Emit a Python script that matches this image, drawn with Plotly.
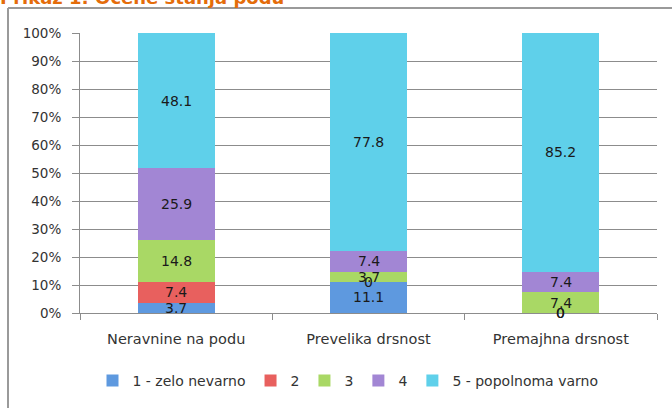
import plotly.graph_objects as go

categories = ["Neravnine na podu", "Prevelika drsnost", "Premajhna drsnost"]
series_names = ["1 - zelo nevarno", "2", "3", "4", "5 - popolnoma varno"]
s1 = [3.7, 11.1, 0]
s2 = [7.4, 0, 0]
s3 = [14.8, 3.7, 7.4]
s4 = [25.9, 7.4, 7.4]
s5 = [48.1, 77.8, 85.2]
series_values = [s1, s2, s3, s4, s5]
y_ticks = [0, 10, 20, 30, 40, 50, 60, 70, 80, 90, 100]
y_tick_labels = [f"{v}%" for v in y_ticks]
title_text = "Prikaz 1: Ocene stanja podu"

colors = ["#5E99DF", "#E8605E", "#A9D865", "#A286D4", "#5FD0EA"]

W, H = 672, 408
L, R, T, B = 80, 15, 33, 94
pw, ph = W - L - R, H - T - B

def px_x(p):
    return (p - L) / pw

def px_y(p):
    return (H - B - p) / ph

fig = go.Figure()
for name, vals, col in zip(series_names, series_values, colors):
    fig.add_trace(go.Bar(
        x=categories, y=vals, name=name,
        marker=dict(color=col, line=dict(width=0)),
        textposition="none", hoverinfo="x+y+name",
    ))

annotations = []
cum = [0.0] * len(categories)
for vals in series_values:
    for i, v in enumerate(vals):
        mid = cum[i] + v / 2
        label = "0" if v == 0 else f"{v:g}"
        annotations.append(dict(
            x=categories[i], y=mid, xref="x", yref="y", text=label,
            showarrow=False, font=dict(family="DejaVu Sans", size=14, color="#1a1a1a"),
        ))
        cum[i] += v

annotations.append(dict(
    x=px_x(-2), y=px_y(-3), xref="paper", yref="paper", xanchor="left", yanchor="middle",
    text=f"<b>{title_text}</b>", showarrow=False,
    font=dict(family="DejaVu Sans", size=18, color="#E46C0A"),
))

shapes = [
    dict(type="line", xref="paper", yref="paper", x0=px_x(8), x1=px_x(690),
         y0=px_y(8), y1=px_y(8), line=dict(color="#9a9a9a", width=2)),
    dict(type="line", xref="paper", yref="paper", x0=px_x(8), x1=px_x(8),
         y0=px_y(8), y1=px_y(420), line=dict(color="#9a9a9a", width=2)),
]

fig.update_layout(
    width=W, height=H,
    margin=dict(l=L, r=R, t=T, b=B, pad=0),
    paper_bgcolor="white", plot_bgcolor="white",
    barmode="stack", bargap=0.6,
    font=dict(family="DejaVu Sans", size=12, color="#333333"),
    showlegend=True,
    legend=dict(orientation="h", x=px_x(348), xanchor="center", y=px_y(381), yanchor="middle",
                traceorder="normal", font=dict(size=14, color="#333333"),
                itemwidth=30, tracegroupgap=0),
    annotations=annotations,
    shapes=shapes,
)
fig.update_yaxes(
    range=[0, 100], tickvals=y_ticks, ticktext=y_tick_labels,
    showgrid=True, gridcolor="#8c8c8c", gridwidth=1,
    showline=True, linecolor="#8c8c8c", linewidth=1,
    ticks="outside", ticklen=7, tickcolor="#8c8c8c",
    zeroline=False, tickfont=dict(size=13.5, color="#333333"),
    ticklabelstandoff=8, automargin=False,
)
fig.update_xaxes(
    showline=True, linecolor="#8c8c8c", linewidth=1,
    ticks="outside", tickson="boundaries", ticklen=6, tickcolor="#8c8c8c",
    showgrid=False, tickfont=dict(size=14.5, color="#333333"),
    ticklabelstandoff=13, automargin=False,
)

fig.write_html(
    "out.html",
    config={"displayModeBar": False},
    post_script="document.body.style.margin='0';document.body.style.overflow='hidden';",
)
